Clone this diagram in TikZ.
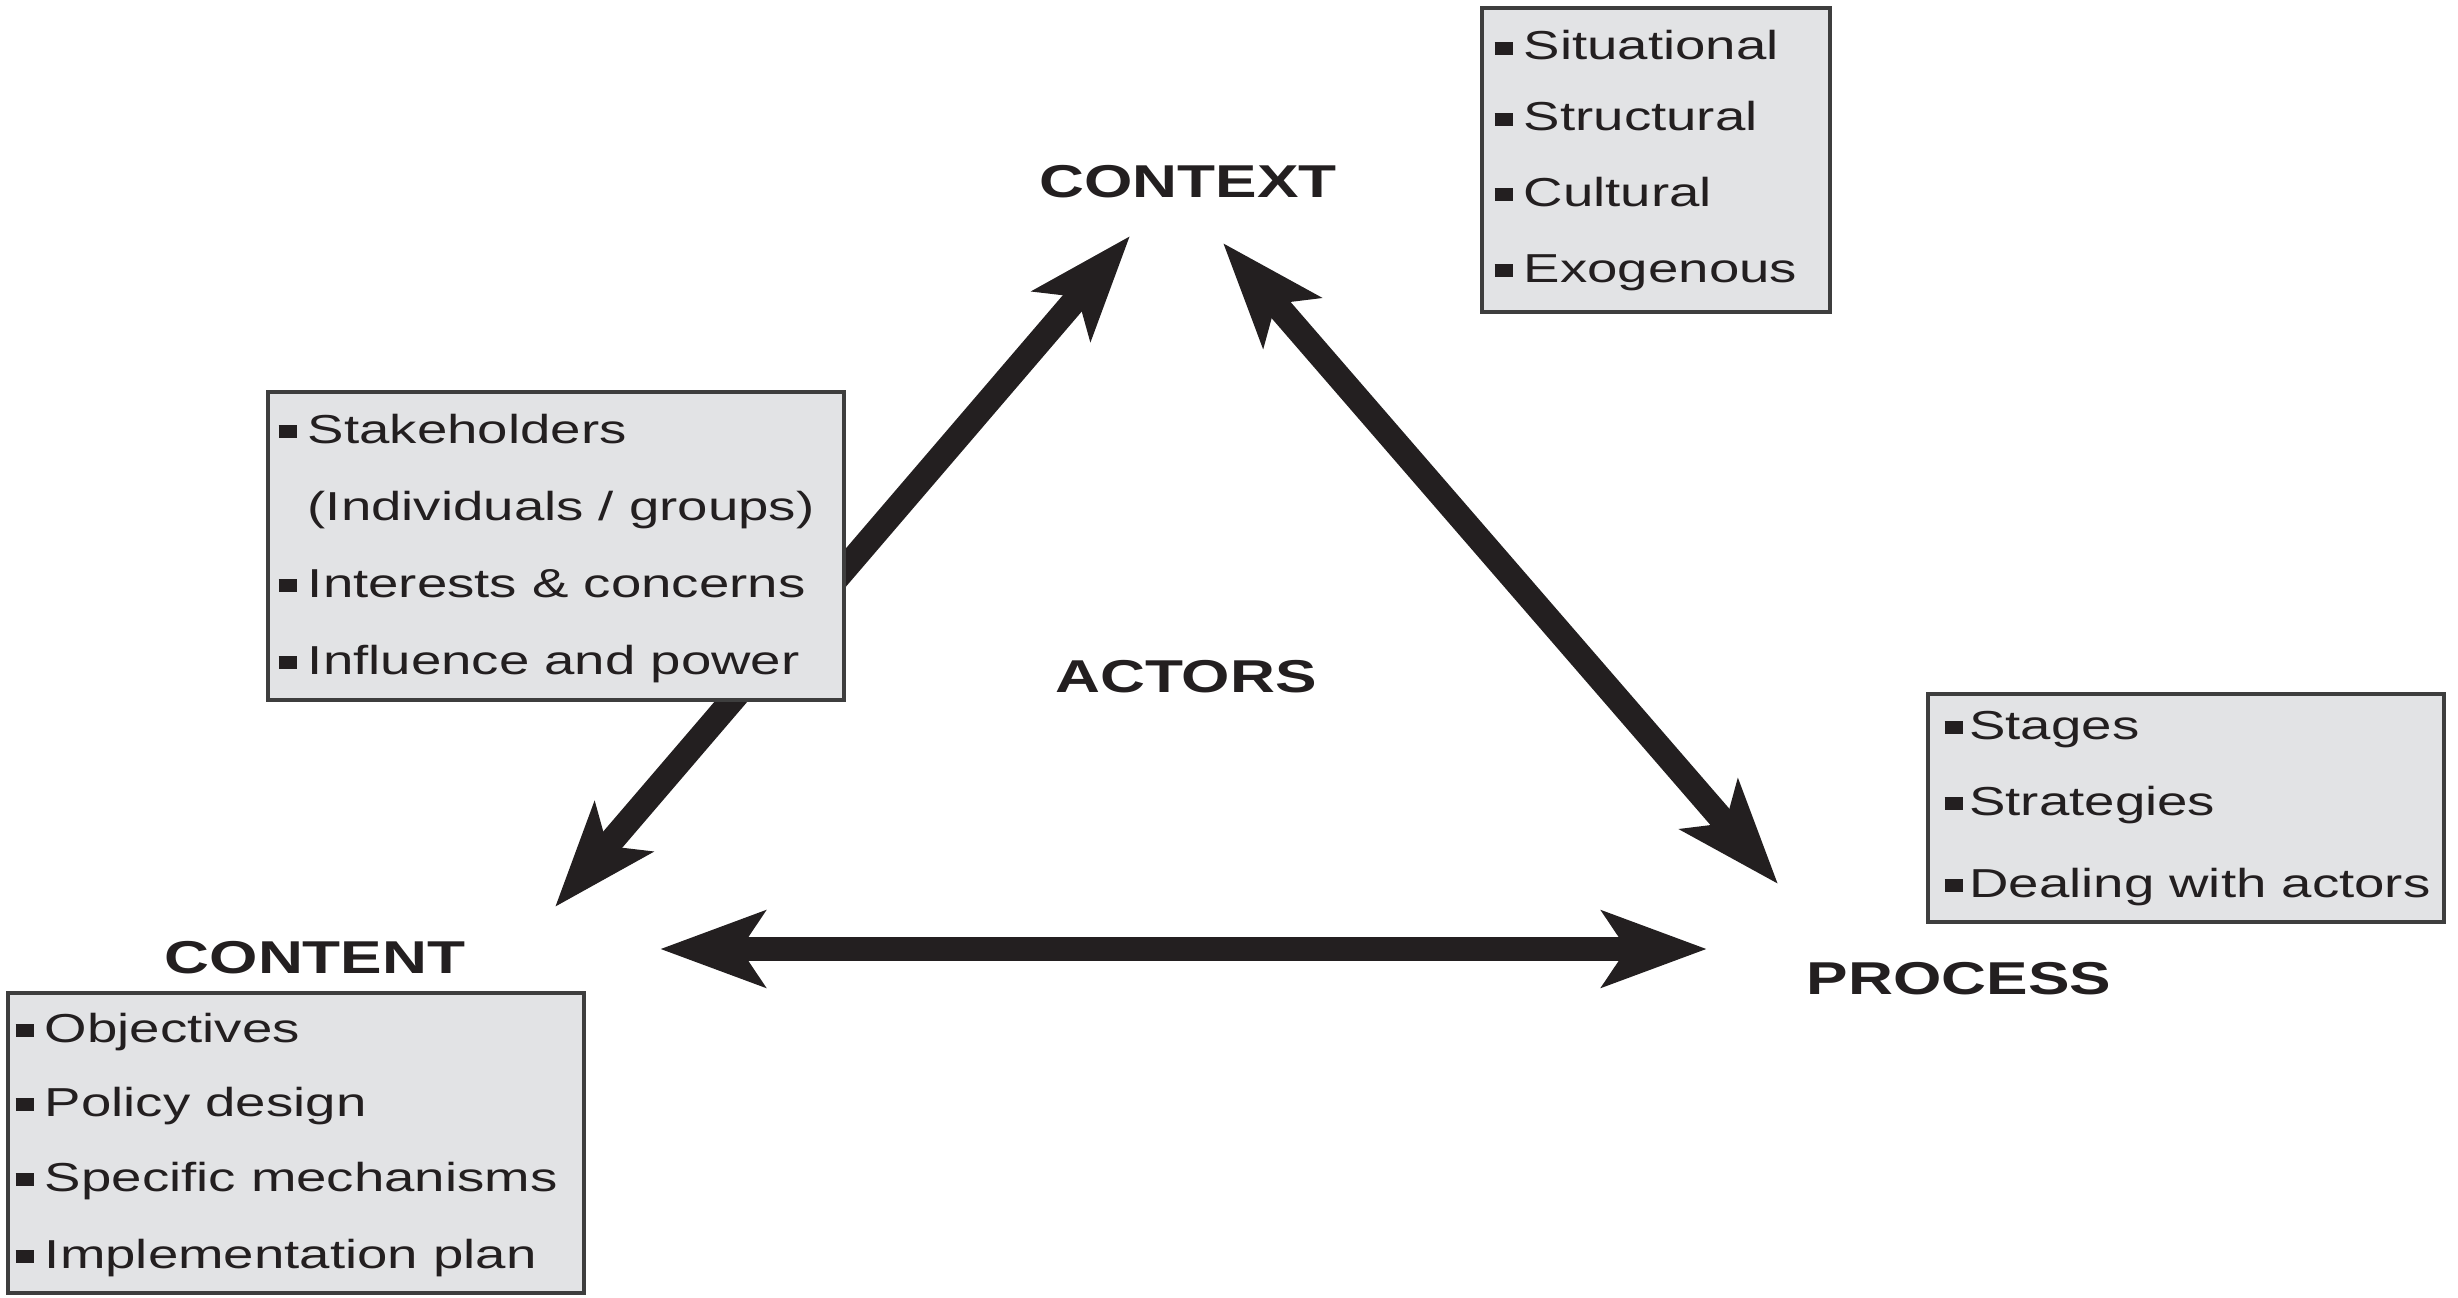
\documentclass[tikz,border=0pt]{standalone}
\usepackage{fontspec}
\setmainfont{Liberation Sans}[FakeStretch=1.35]
\usepackage{xcolor}
\usetikzlibrary{arrows.meta}
\definecolor{ink}{RGB}{35,31,32}
\definecolor{boxgray}{RGB}{226,227,229}
\definecolor{boxline}{RGB}{62,62,62}
\newcommand{\bul}{\rule[1.5pt]{5.3pt}{3.6pt}\hspace{3pt}}
\newcommand{\tbul}{\rule[1.5pt]{5.3pt}{3.6pt}\hspace{1.7pt}}

\begin{document}
\begin{tikzpicture}[x=0.01cm,y=-0.01cm]
   \tikzstyle{head} = [inner sep=0pt, anchor=base, text=ink,
     font=\fontsize{13.1}{16}\selectfont\bfseries]
   \tikzstyle{item} = [inner sep=0pt, anchor=base west, text=ink,
     font=\fontsize{11.5}{14}\selectfont]
   \tikzstyle{list} = [draw=boxline, fill=boxgray, line width=1.1pt,
     inner sep=0pt]
   \tikzstyle{Both} = [draw=ink, line width=7.1pt, <->,
     >={Stealth[length=29.6pt,width=21.3pt,inset=6.8pt]}]
   \useasboundingbox (0,0) rectangle (2458,1297);
    %%
    \coordinate (ctxL) at (1130,236);  \coordinate (ctxR) at (1223,243);
    \coordinate (conT) at (555,907);   \coordinate (conR) at (660,949);
    \coordinate (proT) at (1778,884);  \coordinate (proL) at (1707,949);
    \path [Both] (conT) to (ctxL);
    \path [Both] (ctxR) to (proT);
    \path [Both] (conR) to (proL);
    %%
    \node [head] (context) at (1188,197) {CONTEXT};
    \node [head] (actors) at (1186,692) {ACTORS};
    \node [head] (content) at (315,973) {CONTENT};
    \node [head] (process) at (1959,994) {PROCESS};
    %%
    \node [list, minimum width=3.47cm, minimum height=3.04cm] (ctxbox) at (1656,160) {};
    \node [item] (ctx1) at (1494,60) {\bul Situational};
    \node [item] (ctx2) at (1494,131) {\bul Structural};
    \node [item] (ctx3) at (1494,206) {\bul Cultural};
    \node [item] (ctx4) at (1494,282) {\bul Exogenous};
    %%
    \node [list, minimum width=5.76cm, minimum height=3.07cm] (actbox) at (556,546) {};
    \node [item] (act1) at (278,443) {\bul Stakeholders};
    \node [item] (act2) at (307,520) {(Individuals / groups)};
    \node [item] (act3) at (278,597) {\bul Interests \& concerns};
    \node [item] (act4) at (278,674) {\bul Influence and power};
    %%
    \node [list, minimum width=5.76cm, minimum height=2.99cm] (conbox) at (296,1143) {};
    \node [item] (con1) at (15,1042) {\bul Objectives};
    \node [item] (con2) at (15,1116) {\bul Policy design};
    \node [item] (con3) at (15,1191) {\bul Specific mechanisms};
    \node [item] (con4) at (15,1268) {\bul Implementation plan};
    %%
    \node [list, minimum width=5.16cm, minimum height=2.28cm] (probox) at (2186,808) {};
    \node [item] (pro1) at (1944,739) {\tbul Stages};
    \node [item] (pro2) at (1944,815) {\tbul Strategies};
    \node [item] (pro3) at (1944,897) {\tbul Dealing with actors};
  \end{tikzpicture}
\end{document}
